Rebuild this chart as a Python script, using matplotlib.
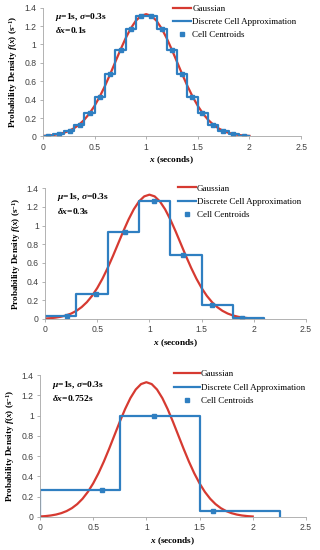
import matplotlib.pyplot as plt

plt.rcParams['font.family'] = 'Liberation Serif'
plt.rcParams['mathtext.fontset'] = 'custom'
plt.rcParams['mathtext.rm'] = 'Liberation Serif:bold'
plt.rcParams['mathtext.it'] = 'Liberation Serif:italic:bold'
plt.rcParams['mathtext.bf'] = 'Liberation Serif:bold'

# Gaussian curve (mu=1, sigma=0.3), read at 0.05 s steps
gauss_x = [0.0, 0.05, 0.1, 0.15, 0.2, 0.25, 0.3, 0.35, 0.4, 0.45, 0.5, 0.55, 0.6, 0.65, 0.7,
           0.75, 0.8, 0.85, 0.9, 0.95, 1.0, 1.05, 1.1, 1.15, 1.2, 1.25, 1.3, 1.35, 1.4, 1.45,
           1.5, 1.55, 1.6, 1.65, 1.7, 1.75, 1.8, 1.85, 1.9, 1.95, 2.0]
gauss_half = [0.0051, 0.0088, 0.0148, 0.0240, 0.0380, 0.0584, 0.0874, 0.1272, 0.1800, 0.2477,
              0.3317, 0.4318, 0.5467, 0.6733, 0.8066, 0.9397, 1.0648, 1.1735, 1.2580, 1.3114]
gauss_y = gauss_half + [1.3298] + gauss_half[::-1]

# panel 1: dx = 0.1 s
edges1 = [0.0, 0.1, 0.2, 0.3, 0.4, 0.5, 0.6, 0.7, 0.8, 0.9, 1.0,
          1.1, 1.2, 1.3, 1.4, 1.5, 1.6, 1.7, 1.8, 1.9, 2.0]
heights1 = [0.009, 0.025, 0.060, 0.129, 0.250, 0.434, 0.675, 0.938, 1.170, 1.306,
            1.306, 1.170, 0.938, 0.675, 0.434, 0.250, 0.129, 0.060, 0.025, 0.009]
cent_x1 = [0.052, 0.158, 0.258, 0.356, 0.455, 0.554, 0.653, 0.752, 0.851, 0.951,
           1.049, 1.149, 1.248, 1.347, 1.446, 1.545, 1.644, 1.742, 1.842, 1.948]

# panel 2: dx = 0.3 s
edges2 = [0.0, 0.3, 0.6, 0.9, 1.2, 1.5, 1.8, 2.1]
heights2 = [0.031, 0.271, 0.927, 1.260, 0.682, 0.147, 0.012]
cent_x2 = [0.211, 0.492, 0.770, 1.046, 1.322, 1.601, 1.885]

# panel 3: dx = 0.752 s
edges3 = [0.0, 0.752, 1.504, 2.256]
heights3 = [0.271, 0.997, 0.062]
cent_x3 = [0.585, 1.075, 1.628]

labels = [r'$\mu$=1s, $\sigma$=0.3s', r'$\delta x$=0.1s', r'$\delta x$=0.3s', r'$\delta x$=0.752s']
red = '#d63a31'
blue = '#2f7fc1'
grey = '#a6a6a6'


def step_path(edges, heights):
    xs, ys = [edges[0]], [0.0]
    for i, h in enumerate(heights):
        xs += [edges[i], edges[i + 1]]
        ys += [h, h]
    xs.append(edges[-1])
    ys.append(0.0)
    return xs, ys


fig = plt.figure(figsize=(3.2, 5.5), dpi=100)
panels = [
    ([0.134, 0.752, 0.807, 0.234], edges1, heights1, cent_x1, labels[1], (0.54, 0.992), 2.0),
    ([0.141, 0.420, 0.815, 0.238], edges2, heights2, cent_x2, labels[2], (0.555, 0.665), 2.0),
    ([0.125, 0.060, 0.831, 0.258], edges3, heights3, cent_x3, labels[3], (0.545, 0.327), 2.8),
]

for rect, edges, heights, cx, dlabel, leg_pos, hlen in panels:
    ax = fig.add_axes(rect)
    ax.plot(gauss_x, gauss_y, color=red, lw=1.6, label='Gaussian')
    sx, sy = step_path(edges, heights)
    ax.plot(sx, sy, color=blue, lw=1.6, label='Discrete Cell Approximation')
    ax.plot(cx, heights, 's', color=blue, ms=3, lw=0, label='Cell Centroids')
    ax.set_xlim(0, 2.5)
    ax.set_ylim(0, 1.4)
    ax.set_xticks([0, 0.5, 1, 1.5, 2, 2.5])
    ax.set_xticklabels(['0', '0.5', '1', '1.5', '2', '2.5'])
    ax.set_yticks([0, 0.2, 0.4, 0.6, 0.8, 1, 1.2, 1.4])
    ax.set_yticklabels(['0', '0.2', '0.4', '0.6', '0.8', '1', '1.2', '1.4'])
    ax.tick_params(labelsize=6.2, length=2, width=0.6, color=grey, pad=2.5,
                   labelcolor='#404040')
    for t in ax.get_xticklabels() + ax.get_yticklabels():
        t.set_family('Liberation Sans')
    for s in ['top', 'right']:
        ax.spines[s].set_visible(False)
    for s in ['left', 'bottom']:
        ax.spines[s].set_color(grey)
        ax.spines[s].set_linewidth(0.6)
    ax.set_xlabel(r'$x$ (seconds)', fontsize=6.7, fontweight='bold', labelpad=2)
    ax.set_ylabel(r'Probability Density $f(x)$ (s$^{-1}$)', fontsize=6.6,
                  fontweight='bold', labelpad=3)
    ax.text(0.045, 0.975, labels[0] + '\n' + dlabel, transform=ax.transAxes,
            fontsize=6.8, fontweight='bold', va='top', ha='left', linespacing=1.3)
    ax.legend(loc='upper left', bbox_to_anchor=leg_pos, bbox_transform=fig.transFigure,
              frameon=False, fontsize=6.5, handlelength=hlen, handletextpad=0.15,
              labelspacing=0.55, borderaxespad=0, borderpad=0)

fig.savefig('out.png', dpi=100)
